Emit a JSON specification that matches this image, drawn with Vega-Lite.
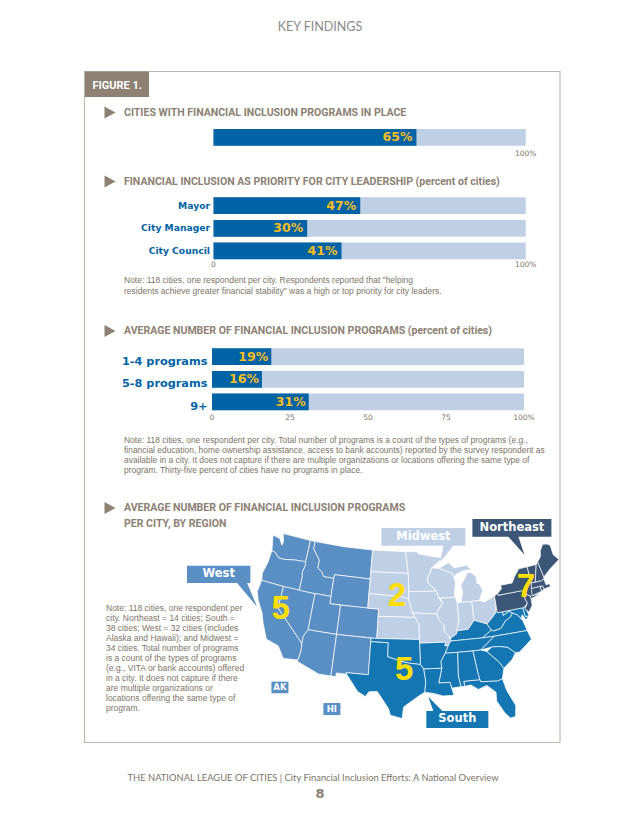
{"$schema":"https://vega.github.io/schema/vega-lite/v6.json","width":640,"height":828,"padding":0,"autosize":{"type":"fit","contains":"padding"},"background":"white","config":{"view":{"stroke":null}},"resolve":{"scale":{"x":"independent","y":"independent"}},
"layer":[
{"data":{"values":[{"panel":"Figure 1"}]},"mark":{"type":"rect","fill":"white","stroke":"#BDB9B3","strokeWidth":1.2},"encoding":{"x":{"datum":0,"scale":{"domain":[0,1],"range":[84.5,560]},"axis":null},"x2":{"datum":1},"y":{"datum":0,"scale":{"domain":[0,1],"range":[71.5,742.5]},"axis":null},"y2":{"datum":1}}},
{"data":{"values":[{"panel":"Figure 1"}]},"mark":{"type":"rect","fill":"#8C8173"},"encoding":{"x":{"datum":0,"scale":{"domain":[0,1],"range":[85,149]},"axis":null},"x2":{"datum":1},"y":{"datum":0,"scale":{"domain":[0,1],"range":[71.5,97]},"axis":null},"y2":{"datum":1}}},
{"data":{"values":[{"line":"FIGURE 1."}]},"mark":{"type":"text","align":"left","baseline":"middle","font":"Roboto","fontWeight":"bold","fontSize":11,"fill":"white"},"encoding":{"x":{"datum":0,"scale":{"domain":[0,1],"range":[92.5,93.5]},"axis":null},"y":{"field":"line","type":"nominal","scale":{"type":"point","padding":0,"range":[85.5,85.5]},"axis":null},"text":{"field":"line"}}},
{"data":{"values":[{"line":"KEY FINDINGS"}]},"mark":{"type":"text","align":"center","baseline":"middle","font":"Lato","fontSize":12.5,"fill":"#8A8A8A"},"encoding":{"x":{"datum":0,"scale":{"domain":[0,1],"range":[320,321]},"axis":null},"y":{"field":"line","type":"nominal","scale":{"type":"point","padding":0,"range":[27,27]},"axis":null},"text":{"field":"line"}}},
{"data":{"values":[{"line":"THE NATIONAL LEAGUE OF CITIES | City Financial Inclusion Efforts: A National Overview"}]},"mark":{"type":"text","align":"center","baseline":"middle","font":"Lato","fontSize":9.4,"fill":"#7C7468"},"encoding":{"x":{"datum":0,"scale":{"domain":[0,1],"range":[313,314]},"axis":null},"y":{"field":"line","type":"nominal","scale":{"type":"point","padding":0,"range":[778,778]},"axis":null},"text":{"field":"line"}}},
{"data":{"values":[{"line":"8"}]},"mark":{"type":"text","align":"center","baseline":"middle","font":"DejaVu Sans","fontWeight":"bold","fontSize":13,"fill":"#8C8173"},"encoding":{"x":{"datum":0,"scale":{"domain":[0,1],"range":[320,321]},"axis":null},"y":{"field":"line","type":"nominal","scale":{"type":"point","padding":0,"range":[794,794]},"axis":null},"text":{"field":"line"}}},

{"data":{"values":[{"line":"CITIES WITH FINANCIAL INCLUSION PROGRAMS IN PLACE"}]},"encoding":{"y":{"field":"line","type":"nominal","scale":{"type":"point","padding":0,"range":[112.5,112.5]},"axis":null}},"layer":[
{"mark":{"type":"point","filled":true,"opacity":1,"size":4,"shape":"M-5.5,-6L5.5,0L-5.5,6Z","color":"#8C8173"},"encoding":{"x":{"datum":0,"scale":{"domain":[0,1],"range":[110,124]},"axis":null}}},
{"mark":{"type":"text","align":"left","baseline":"middle","font":"Roboto","fontWeight":"bold","fontSize":10.55,"fill":"#8C8173"},"encoding":{"x":{"datum":1},"text":{"field":"line"}}}]},
{"data":{"values":[{"line":"FINANCIAL INCLUSION AS PRIORITY FOR CITY LEADERSHIP (percent of cities)"}]},"encoding":{"y":{"field":"line","type":"nominal","scale":{"type":"point","padding":0,"range":[181.5,181.5]},"axis":null}},"layer":[
{"mark":{"type":"point","filled":true,"opacity":1,"size":4,"shape":"M-5.5,-6L5.5,0L-5.5,6Z","color":"#8C8173"},"encoding":{"x":{"datum":0,"scale":{"domain":[0,1],"range":[110,124]},"axis":null}}},
{"mark":{"type":"text","align":"left","baseline":"middle","font":"Roboto","fontWeight":"bold","fontSize":10.55,"fill":"#8C8173"},"encoding":{"x":{"datum":1},"text":{"field":"line"}}}]},
{"data":{"values":[{"line":"AVERAGE NUMBER OF FINANCIAL INCLUSION PROGRAMS (percent of cities)"}]},"encoding":{"y":{"field":"line","type":"nominal","scale":{"type":"point","padding":0,"range":[331,331]},"axis":null}},"layer":[
{"mark":{"type":"point","filled":true,"opacity":1,"size":4,"shape":"M-5.5,-6L5.5,0L-5.5,6Z","color":"#8C8173"},"encoding":{"x":{"datum":0,"scale":{"domain":[0,1],"range":[110,124]},"axis":null}}},
{"mark":{"type":"text","align":"left","baseline":"middle","font":"Roboto","fontWeight":"bold","fontSize":10.55,"fill":"#8C8173"},"encoding":{"x":{"datum":1},"text":{"field":"line"}}}]},
{"data":{"values":[{"line":"AVERAGE NUMBER OF FINANCIAL INCLUSION PROGRAMS"},{"line":"PER CITY, BY REGION"}]},"encoding":{"y":{"field":"line","type":"nominal","sort":null,"scale":{"type":"point","padding":0,"domain":["AVERAGE NUMBER OF FINANCIAL INCLUSION PROGRAMS","PER CITY, BY REGION"],"range":[508,523.5]},"axis":null}},"layer":[
{"transform":[{"filter":"datum.line === 'AVERAGE NUMBER OF FINANCIAL INCLUSION PROGRAMS'"}],"mark":{"type":"point","filled":true,"opacity":1,"size":4,"shape":"M-5.5,-6L5.5,0L-5.5,6Z","color":"#8C8173"},"encoding":{"x":{"datum":0,"scale":{"domain":[0,1],"range":[110,124]},"axis":null}}},
{"mark":{"type":"text","align":"left","baseline":"middle","font":"Roboto","fontWeight":"bold","fontSize":10.55,"fill":"#8C8173"},"encoding":{"x":{"datum":1},"text":{"field":"line"}}}]},

{"layer":[
{"data":{"name":"inplace","values":[{"category":"All cities","value":65,"label":"65%"}]},"encoding":{"x":{"datum":100,"type":"quantitative","scale":{"domain":[0,100],"range":[213.5,525.7]},"axis":null},"y":{"field":"category","type":"nominal","scale":{"type":"band","range":[129,145.7],"paddingInner":0,"paddingOuter":0},"axis":null}},"mark":{"type":"bar","fill":"#BFCFE6"}},
{"data":{"name":"inplace"},"encoding":{"x":{"field":"value","type":"quantitative"},"y":{"field":"category","type":"nominal"}},"mark":{"type":"bar","fill":"#0063A6"}},
{"data":{"name":"inplace"},"encoding":{"x":{"field":"value","type":"quantitative"},"y":{"field":"category","type":"nominal"},"text":{"field":"label"}},"mark":{"type":"text","align":"right","baseline":"middle","dx":-4,"font":"DejaVu Sans","fontWeight":"bold","fontSize":12.5,"fill":"#F5BD1F"}},
{"data":{"values":[{"category":"All cities","tick":100,"label":"100%"}]},"encoding":{"x":{"field":"tick","type":"quantitative"},"y":{"field":"category","type":"nominal"},"text":{"field":"label"}},"mark":{"type":"text","align":"center","baseline":"middle","dy":16.6,"font":"DejaVu Sans","fontSize":7.5,"fill":"#7C7468"}}]},

{"layer":[
{"data":{"name":"priority","values":[{"category":"Mayor","value":47,"label":"47%"},{"category":"City Manager","value":30,"label":"30%"},{"category":"City Council","value":41,"label":"41%"}]},"encoding":{"x":{"datum":100,"type":"quantitative","scale":{"domain":[0,100],"range":[213.5,525.7]},"axis":null},"y":{"field":"category","type":"nominal","sort":null,"scale":{"type":"band","range":[197.3,259.3],"paddingInner":0.264,"paddingOuter":0},"axis":null}},"mark":{"type":"bar","fill":"#BFCFE6"}},
{"data":{"name":"priority"},"encoding":{"x":{"field":"value","type":"quantitative"},"y":{"field":"category","type":"nominal","sort":null}},"mark":{"type":"bar","fill":"#0063A6"}},
{"data":{"name":"priority"},"encoding":{"x":{"field":"value","type":"quantitative"},"y":{"field":"category","type":"nominal","sort":null},"text":{"field":"label"}},"mark":{"type":"text","align":"right","baseline":"middle","dx":-4,"font":"DejaVu Sans","fontWeight":"bold","fontSize":12.5,"fill":"#F5BD1F"}},
{"data":{"name":"priority"},"encoding":{"x":{"datum":0,"type":"quantitative"},"y":{"field":"category","type":"nominal","sort":null},"text":{"field":"category"}},"mark":{"type":"text","align":"right","baseline":"middle","dx":-3.5,"font":"DejaVu Sans","fontWeight":"bold","fontSize":9.2,"fill":"#0063A6"}},
{"data":{"values":[{"category":"City Council","tick":0,"label":"0"},{"category":"City Council","tick":100,"label":"100%"}]},"encoding":{"x":{"field":"tick","type":"quantitative"},"y":{"field":"category","type":"nominal","sort":null},"text":{"field":"label"}},"mark":{"type":"text","align":"center","baseline":"middle","dy":14,"font":"DejaVu Sans","fontSize":7.5,"fill":"#7C7468"}}]},

{"layer":[
{"data":{"name":"programs","values":[{"category":"1-4 programs","value":19,"label":"19%"},{"category":"5-8 programs","value":16,"label":"16%"},{"category":"9+","value":31,"label":"31%"}]},"encoding":{"x":{"datum":100,"type":"quantitative","scale":{"domain":[0,100],"range":[212,524]},"axis":null},"y":{"field":"category","type":"nominal","sort":null,"scale":{"type":"band","range":[348.3,410.3],"paddingInner":0.264,"paddingOuter":0},"axis":null}},"mark":{"type":"bar","fill":"#BFCFE6"}},
{"data":{"name":"programs"},"encoding":{"x":{"field":"value","type":"quantitative"},"y":{"field":"category","type":"nominal","sort":null}},"mark":{"type":"bar","fill":"#0063A6"}},
{"data":{"name":"programs"},"encoding":{"x":{"field":"value","type":"quantitative"},"y":{"field":"category","type":"nominal","sort":null},"text":{"field":"label"}},"mark":{"type":"text","align":"right","baseline":"middle","dx":-3,"font":"DejaVu Sans","fontWeight":"bold","fontSize":12.5,"fill":"#F5BD1F"}},
{"data":{"name":"programs"},"encoding":{"x":{"datum":0,"type":"quantitative"},"y":{"field":"category","type":"nominal","sort":null},"text":{"field":"category"}},"mark":{"type":"text","align":"right","baseline":"middle","dx":-4.5,"dy":5,"font":"DejaVu Sans","fontWeight":"bold","fontSize":11.3,"fill":"#0063A6"}},
{"data":{"values":[{"category":"9+","tick":0,"label":"0"},{"category":"9+","tick":25,"label":"25"},{"category":"9+","tick":50,"label":"50"},{"category":"9+","tick":75,"label":"75"},{"category":"9+","tick":100,"label":"100%"}]},"encoding":{"x":{"field":"tick","type":"quantitative"},"y":{"field":"category","type":"nominal","sort":null},"text":{"field":"label"}},"mark":{"type":"text","align":"center","baseline":"middle","dy":15.7,"font":"DejaVu Sans","fontSize":7.5,"fill":"#7C7468"}}]},

{"data":{"values":[{"line":"Note: 118 cities, one respondent per city. Respondents reported that \"helping"},{"line":"residents achieve greater financial stability\" was a high or top priority for city leaders."}]},"mark":{"type":"text","align":"left","baseline":"middle","font":"Liberation Sans","fontSize":8.5,"fill":"#7C7468"},"encoding":{"x":{"datum":0,"scale":{"domain":[0,1],"range":[124,125]},"axis":null},"y":{"field":"line","type":"nominal","sort":null,"scale":{"type":"point","padding":0,"range":[280,290.7]},"axis":null},"text":{"field":"line"}}},
{"data":{"values":[{"line":"Note: 118 cities, one respondent per city. Total number of programs is a count of the types of programs (e.g.,"},{"line":"financial education, home ownership assistance, access to bank accounts) reported by the survey respondent as"},{"line":"available in a city. It does not capture if there are multiple organizations or locations offering the same type of"},{"line":"program. Thirty-five percent of cities have no programs in place."}]},"mark":{"type":"text","align":"left","baseline":"middle","font":"Liberation Sans","fontSize":8.45,"fill":"#7C7468"},"encoding":{"x":{"datum":0,"scale":{"domain":[0,1],"range":[124,125]},"axis":null},"y":{"field":"line","type":"nominal","sort":null,"scale":{"type":"point","padding":0,"range":[440,470]},"axis":null},"text":{"field":"line"}}},
{"data":{"values":[{"line":"Note: 118 cities, one respondent per"},{"line":"city. Northeast = 14 cities; South ="},{"line":"38 cities; West = 32 cities (includes"},{"line":"Alaska and Hawaii); and Midwest ="},{"line":"34 cities. Total number of programs"},{"line":"is a count of the types of programs"},{"line":"(e.g., VITA or bank accounts) offered"},{"line":"in a city. It does not capture if there"},{"line":"are multiple organizations or"},{"line":"locations offering the same type of"},{"line":"program."}]},"mark":{"type":"text","align":"left","baseline":"middle","font":"Liberation Sans","fontSize":8.5,"fill":"#7C7468"},"encoding":{"x":{"datum":0,"scale":{"domain":[0,1],"range":[106,107]},"axis":null},"y":{"field":"line","type":"nominal","sort":null,"scale":{"type":"point","padding":0,"range":[608,708]},"axis":null},"text":{"field":"line"}}},

{"projection":{"type":"albers","scale":418,"translate":[408,627]},"layer":[
{"data":{"values":[
{"type":"Feature","state":"WA","region":"West","geometry":{"type":"Polygon","coordinates":[[[-124.7,48.4],[-123.2,48.2],[-122.4,47.4],[-122.3,48],[-122.8,49],[-117,49],[-117,46],[-119,45.9],[-121.2,45.6],[-122.3,45.6],[-123.3,46.2],[-124,46.3],[-124.7,48.4]]]}},
{"type":"Feature","state":"OR","region":"West","geometry":{"type":"Polygon","coordinates":[[[-124,46.3],[-123.3,46.2],[-122.3,45.6],[-121.2,45.6],[-119,45.9],[-117,46],[-116.9,45.5],[-117.2,44.4],[-117,44],[-117,42],[-120,42],[-124.2,42],[-124.5,43],[-124.1,44.5],[-124,46.3]]]}},
{"type":"Feature","state":"CA","region":"West","geometry":{"type":"Polygon","coordinates":[[[-124.2,42],[-120,42],[-120,39],[-114.6,35],[-114.5,34],[-114.7,32.7],[-117.1,32.5],[-118.4,34],[-120.6,34.5],[-121.9,36.6],[-122.5,37.8],[-123.8,39.3],[-124.4,40.4],[-124.2,42]]]}},
{"type":"Feature","state":"NV","region":"West","geometry":{"type":"Polygon","coordinates":[[[-120,42],[-114,42],[-114,37],[-114.6,36],[-114.6,35],[-120,39],[-120,42]]]}},
{"type":"Feature","state":"ID","region":"West","geometry":{"type":"Polygon","coordinates":[[[-117,49],[-116,49],[-116,48],[-114.4,46.6],[-114.4,45.5],[-113.5,45.1],[-113,44.5],[-111,44.5],[-111,42],[-114,42],[-117,42],[-117,44],[-117.2,44.4],[-116.9,45.5],[-117,46],[-117,49]]]}},
{"type":"Feature","state":"MT","region":"West","geometry":{"type":"Polygon","coordinates":[[[-116,49],[-110,49],[-104,49],[-104,45],[-111,45],[-111,44.5],[-113,44.5],[-113.5,45.1],[-114.4,45.5],[-114.4,46.6],[-116,48],[-116,49]]]}},
{"type":"Feature","state":"WY","region":"West","geometry":{"type":"Polygon","coordinates":[[[-111,45],[-104,45],[-104,41],[-111,41],[-111,45]]]}},
{"type":"Feature","state":"UT","region":"West","geometry":{"type":"Polygon","coordinates":[[[-114,42],[-111,42],[-111,41],[-109,41],[-109,37],[-114,37],[-114,42]]]}},
{"type":"Feature","state":"CO","region":"West","geometry":{"type":"Polygon","coordinates":[[[-109,41],[-102,41],[-102,37],[-109,37],[-109,41]]]}},
{"type":"Feature","state":"AZ","region":"West","geometry":{"type":"Polygon","coordinates":[[[-114,37],[-109,37],[-109,31.3],[-111,31.3],[-114.8,32.5],[-114.7,32.7],[-114.5,34],[-114.6,35],[-114.6,36],[-114,37]]]}},
{"type":"Feature","state":"NM","region":"West","geometry":{"type":"Polygon","coordinates":[[[-109,37],[-103,37],[-103,32],[-106.6,32],[-106.5,31.8],[-108.2,31.8],[-108.2,31.3],[-109,31.3],[-109,37]]]}},
{"type":"Feature","state":"ND","region":"Midwest","geometry":{"type":"Polygon","coordinates":[[[-104,49],[-97.2,49],[-96.6,46],[-104,46],[-104,49]]]}},
{"type":"Feature","state":"SD","region":"Midwest","geometry":{"type":"Polygon","coordinates":[[[-104,46],[-96.6,46],[-96.5,43.5],[-96.5,42.5],[-98,42.8],[-104,43],[-104,46]]]}},
{"type":"Feature","state":"NE","region":"Midwest","geometry":{"type":"Polygon","coordinates":[[[-104,43],[-98,42.8],[-96.5,42.5],[-95.8,40.6],[-95.3,40],[-102,40],[-102,41],[-104,41],[-104,43]]]}},
{"type":"Feature","state":"KS","region":"Midwest","geometry":{"type":"Polygon","coordinates":[[[-102,40],[-95.3,40],[-94.6,39],[-94.6,37],[-102,37],[-102,40]]]}},
{"type":"Feature","state":"MN","region":"Midwest","geometry":{"type":"Polygon","coordinates":[[[-97.2,49],[-95,49],[-95,49.3],[-94.6,48.7],[-92,48.3],[-89.6,48],[-92,46.7],[-92.3,46],[-92.8,45.5],[-92.8,44.7],[-91.2,43.5],[-96.5,43.5],[-96.6,46],[-97.2,49]]]}},
{"type":"Feature","state":"IA","region":"Midwest","geometry":{"type":"Polygon","coordinates":[[[-96.5,43.5],[-91.2,43.5],[-91,42.7],[-90.2,41.8],[-91,41],[-91.4,40.4],[-95.8,40.6],[-96.5,42.5],[-96.5,43.5]]]}},
{"type":"Feature","state":"MO","region":"Midwest","geometry":{"type":"Polygon","coordinates":[[[-95.8,40.6],[-91.4,40.4],[-91,39.5],[-90.2,38.8],[-90.2,38],[-89.5,37.3],[-89.2,36.6],[-89.7,36],[-90.3,36],[-90.1,36.5],[-94.6,36.5],[-94.6,37],[-94.6,39],[-95.3,40],[-95.8,40.6]]]}},
{"type":"Feature","state":"WI","region":"Midwest","geometry":{"type":"Polygon","coordinates":[[[-92,46.7],[-90.5,46.6],[-88,45.8],[-87.7,45.3],[-87.5,44.3],[-87.9,43],[-87.8,42.5],[-90.6,42.5],[-91,42.7],[-91.2,43.5],[-92.8,44.7],[-92.8,45.5],[-92.3,46],[-92,46.7]]]}},
{"type":"Feature","state":"IL","region":"Midwest","geometry":{"type":"Polygon","coordinates":[[[-90.6,42.5],[-87.8,42.5],[-87.5,41.7],[-87.5,39.3],[-88,37.9],[-88.1,37.5],[-89.2,37],[-89.5,37.3],[-90.2,38],[-90.2,38.8],[-91,39.5],[-91.4,40.4],[-91,41],[-90.2,41.8],[-90.6,42.5]]]}},
{"type":"Feature","state":"IN","region":"Midwest","geometry":{"type":"Polygon","coordinates":[[[-87.5,41.7],[-86.8,41.76],[-84.8,41.7],[-84.8,39.1],[-86,38],[-88,37.9],[-87.5,39.3],[-87.5,41.7]]]}},
{"type":"Feature","state":"MI","region":"Midwest","geometry":{"type":"MultiPolygon","coordinates":[[[[-85,45.7],[-84.3,45.6],[-83.4,45],[-83.4,44],[-83,44],[-82.5,43],[-83.2,42],[-83.5,41.7],[-84.8,41.7],[-86.8,41.76],[-86.3,43],[-86.5,44],[-85.6,45],[-85,45.7]]],[[[-90.5,46.6],[-88.5,47.3],[-87.5,46.5],[-85,46.7],[-84.2,46],[-85.5,46],[-87,45.7],[-87.7,45.3],[-88,45.8],[-90.5,46.6]]]]}},
{"type":"Feature","state":"OH","region":"Midwest","geometry":{"type":"Polygon","coordinates":[[[-84.8,41.7],[-83.5,41.7],[-82.5,41.4],[-80.5,42],[-80.5,40.6],[-80.8,39.7],[-81.7,39],[-82.6,38.4],[-84.8,39.1],[-84.8,41.7]]]}},
{"type":"Feature","state":"KY","region":"South","geometry":{"type":"Polygon","coordinates":[[[-84.8,39.1],[-82.6,38.4],[-82,37.5],[-83.7,36.6],[-89.2,36.6],[-89.2,37],[-88.1,37.5],[-88,37.9],[-86,38],[-84.8,39.1]]]}},
{"type":"Feature","state":"WV","region":"South","geometry":{"type":"Polygon","coordinates":[[[-80.5,40.6],[-80.5,39.7],[-79.5,39.7],[-79.5,39.2],[-78.4,39.6],[-77.8,39.3],[-78.3,38.8],[-79.3,38.4],[-80.3,37.5],[-81.7,37.3],[-82,37.5],[-82.6,38.4],[-81.7,39],[-80.8,39.7],[-80.5,40.6]]]}},
{"type":"Feature","state":"VA","region":"South","geometry":{"type":"Polygon","coordinates":[[[-77.8,39.3],[-77,38.9],[-76.3,38],[-76,37],[-75.9,36.55],[-81.7,36.6],[-83.7,36.6],[-82,37.5],[-81.7,37.3],[-80.3,37.5],[-79.3,38.4],[-78.3,38.8],[-77.8,39.3]]]}},
{"type":"Feature","state":"NC","region":"South","geometry":{"type":"Polygon","coordinates":[[[-81.7,36.6],[-75.9,36.55],[-75.5,35.3],[-76.5,34.7],[-77.9,33.9],[-78.6,33.9],[-79.7,34.8],[-81,35.1],[-82.3,35.2],[-84.3,35],[-83,35.8],[-81.7,36.6]]]}},
{"type":"Feature","state":"TN","region":"South","geometry":{"type":"Polygon","coordinates":[[[-89.2,36.6],[-83.7,36.6],[-81.7,36.6],[-83,35.8],[-84.3,35],[-85.6,35],[-88.2,35],[-90.3,35],[-89.7,36],[-89.2,36.6]]]}},
{"type":"Feature","state":"SC","region":"South","geometry":{"type":"Polygon","coordinates":[[[-82.3,35.2],[-81,35.1],[-79.7,34.8],[-78.6,33.9],[-79.3,33.1],[-80.9,32.1],[-81.5,33],[-83.3,34.7],[-82.3,35.2]]]}},
{"type":"Feature","state":"GA","region":"South","geometry":{"type":"Polygon","coordinates":[[[-85.6,35],[-84.3,35],[-83.3,34.7],[-81.5,33],[-80.9,32.1],[-81.4,30.7],[-82.2,30.5],[-84.9,30.7],[-85,31],[-85.2,32],[-85.6,35]]]}},
{"type":"Feature","state":"FL","region":"South","geometry":{"type":"Polygon","coordinates":[[[-87.6,31],[-85,31],[-84.9,30.7],[-82.2,30.5],[-81.4,30.7],[-81,29],[-80,26.8],[-80.3,25.3],[-81.1,25.2],[-81.8,26],[-82.8,27.8],[-82.7,29],[-84,30.1],[-85.4,29.7],[-86.5,30.4],[-87.5,30.3],[-87.6,31]]]}},
{"type":"Feature","state":"AL","region":"South","geometry":{"type":"Polygon","coordinates":[[[-88.2,35],[-85.6,35],[-85.2,32],[-85,31],[-87.6,31],[-87.5,30.3],[-88.1,30.3],[-88.4,31.8],[-88.2,35]]]}},
{"type":"Feature","state":"MS","region":"South","geometry":{"type":"Polygon","coordinates":[[[-90.3,35],[-88.2,35],[-88.4,31.8],[-88.1,30.3],[-89.6,30.2],[-89.8,31],[-91.6,31],[-91,33],[-91.1,33.9],[-90.3,35]]]}},
{"type":"Feature","state":"LA","region":"South","geometry":{"type":"Polygon","coordinates":[[[-94,33],[-91,33],[-91.6,31],[-89.8,31],[-89.6,30.2],[-89.3,29.2],[-91,29.2],[-92.5,29.6],[-93.9,29.8],[-93.7,31.2],[-94,33]]]}},
{"type":"Feature","state":"AR","region":"South","geometry":{"type":"Polygon","coordinates":[[[-94.6,36.5],[-90.1,36.5],[-90.3,36],[-89.7,36],[-90.3,35],[-91.1,33.9],[-91,33],[-94,33],[-94.5,33.6],[-94.6,36.5]]]}},
{"type":"Feature","state":"OK","region":"South","geometry":{"type":"Polygon","coordinates":[[[-103,37],[-102,37],[-94.6,37],[-94.6,36.5],[-94.5,33.6],[-96.5,33.8],[-98,34.1],[-100,34.6],[-100,36.5],[-103,36.5],[-103,37]]]}},
{"type":"Feature","state":"TX","region":"South","geometry":{"type":"Polygon","coordinates":[[[-103,36.5],[-100,36.5],[-100,34.6],[-98,34.1],[-96.5,33.8],[-94.5,33.6],[-94,33],[-93.7,31.2],[-93.9,29.8],[-95,29.2],[-97.2,27.8],[-97.4,26.2],[-99.2,26.6],[-99.5,27.5],[-101.4,29.8],[-102.7,29.7],[-103.2,29],[-104.5,29.6],[-106.5,31.8],[-106.6,32],[-103,32],[-103,36.5]]]}},
{"type":"Feature","state":"MD","region":"South","geometry":{"type":"Polygon","coordinates":[[[-79.5,39.7],[-75.8,39.7],[-75.7,38.45],[-75.05,38.45],[-75.7,38],[-76.2,38.8],[-76.5,38.3],[-77,38.9],[-77.8,39.3],[-78.4,39.6],[-79.5,39.2],[-79.5,39.7]]]}},
{"type":"Feature","state":"DE","region":"South","geometry":{"type":"Polygon","coordinates":[[[-75.8,39.7],[-75.4,39.8],[-75.1,38.8],[-75.05,38.45],[-75.7,38.45],[-75.8,39.7]]]}},
{"type":"Feature","state":"PA","region":"Northeast","geometry":{"type":"Polygon","coordinates":[[[-80.5,42],[-79.8,42.3],[-79.8,42],[-75.3,42],[-74.7,41.4],[-75.1,40.9],[-74.8,40.2],[-75.4,39.8],[-75.8,39.7],[-79.5,39.7],[-80.5,39.7],[-80.5,40.6],[-80.5,42]]]}},
{"type":"Feature","state":"NY","region":"Northeast","geometry":{"type":"Polygon","coordinates":[[[-79.8,42.3],[-79,42.8],[-79,43.3],[-76.8,43.3],[-76.2,44],[-75,45],[-73.3,45],[-73.3,42.7],[-73.5,41.3],[-73.7,41],[-72,41.1],[-74,40.6],[-74,41],[-74.7,41.4],[-75.3,42],[-79.8,42],[-79.8,42.3]]]}},
{"type":"Feature","state":"NJ","region":"Northeast","geometry":{"type":"Polygon","coordinates":[[[-74.7,41.4],[-74,41],[-74,40.4],[-74.1,39.7],[-74.9,38.95],[-75.5,39.5],[-74.8,40.2],[-75.1,40.9],[-74.7,41.4]]]}},
{"type":"Feature","state":"CT","region":"Northeast","geometry":{"type":"Polygon","coordinates":[[[-73.5,42],[-71.8,42],[-71.8,41.3],[-73.7,41],[-73.5,42]]]}},
{"type":"Feature","state":"RI","region":"Northeast","geometry":{"type":"Polygon","coordinates":[[[-71.8,42],[-71.4,42],[-71.2,41.5],[-71.8,41.3],[-71.8,42]]]}},
{"type":"Feature","state":"MA","region":"Northeast","geometry":{"type":"Polygon","coordinates":[[[-73.3,42.75],[-71.3,42.7],[-70.8,42.85],[-70.7,42],[-70,42],[-70,41.6],[-71.2,41.5],[-71.4,42],[-73.5,42],[-73.3,42.75]]]}},
{"type":"Feature","state":"VT","region":"Northeast","geometry":{"type":"Polygon","coordinates":[[[-73.3,45],[-71.5,45],[-72.5,42.73],[-73.3,42.75],[-73.3,45]]]}},
{"type":"Feature","state":"NH","region":"Northeast","geometry":{"type":"Polygon","coordinates":[[[-71.5,45],[-71.1,45.3],[-70.7,43.1],[-70.8,42.85],[-71.3,42.7],[-72.5,42.73],[-71.5,45]]]}},
{"type":"Feature","state":"ME","region":"Northeast","geometry":{"type":"Polygon","coordinates":[[[-71.1,45.3],[-70.3,45.9],[-70,46.7],[-69.2,47.45],[-68.3,47.3],[-67.8,47],[-67.8,45.7],[-67,44.8],[-69,44],[-70.7,43.1],[-71.1,45.3]]]}}
]},"mark":{"type":"geoshape","stroke":"white","strokeWidth":0.7},"encoding":{"color":{"field":"region","type":"nominal","legend":null,"scale":{"domain":["West","Midwest","South","Northeast"],"range":["#5A8FC4","#BFCFE6","#1476B2","#3B5676"]}}}},
{"data":{"name":"callouts","values":[{"label":"West","region":"West","lon":-132.06,"lat":40.82},{"label":"Midwest","region":"Midwest","lon":-93.44,"lat":51.04},{"label":"Northeast","region":"Northeast","lon":-74.5,"lat":50.73},{"label":"South","region":"South","lon":-89.06,"lat":25.84},{"label":"AK","region":"West","lon":-116.62,"lat":28.51},{"label":"HI","region":"West","lon":-108.16,"lat":26.81}]},"mark":{"type":"point","filled":true,"opacity":1,"size":4},"encoding":{"longitude":{"field":"lon","type":"quantitative"},"latitude":{"field":"lat","type":"quantitative"},"color":{"field":"region","type":"nominal","legend":null},"shape":{"field":"label","type":"nominal","legend":null,"scale":{"domain":["West","Midwest","Northeast","South","AK","HI"],"range":["M-31.7,-8.7H31.7V8.7H28.4L38.4,32.4L18.4,8.7H-31.7Z","M-42,-8.9H42V8.9H30L17,24.8L20,8.9H-42Z","M-39.5,-8.9H39.5V8.9H6.5L12.5,27L-3.5,8.9H-39.5Z","M-31,-8.5H-24L-29,-22.5L-15,-8.5H31V8.5H-31Z","M-8.5,-5.8H8.5V5.8H-8.5Z","M-8.5,-6H8.5V6H-8.5Z"]}}}},
{"data":{"name":"callouts"},"transform":[{"filter":"datum.label !== 'AK' && datum.label !== 'HI'"}],"mark":{"type":"text","align":"center","baseline":"middle","font":"DejaVu Sans","fontWeight":"bold","fontSize":11.5,"fill":"white"},"encoding":{"longitude":{"field":"lon","type":"quantitative"},"latitude":{"field":"lat","type":"quantitative"},"text":{"field":"label"}}},
{"data":{"name":"callouts"},"transform":[{"filter":"datum.label === 'AK' || datum.label === 'HI'"}],"mark":{"type":"text","align":"center","baseline":"middle","font":"DejaVu Sans","fontWeight":"bold","fontSize":8.5,"fill":"white"},"encoding":{"longitude":{"field":"lon","type":"quantitative"},"latitude":{"field":"lat","type":"quantitative"},"text":{"field":"label"}}},
{"data":{"values":[{"region":"West","average":5,"lon":-119.5,"lat":39},{"region":"Midwest","average":2,"lon":-98.7,"lat":42.9},{"region":"South","average":5,"lon":-97.2,"lat":32.9},{"region":"Northeast","average":7,"lon":-74.4,"lat":42.4}]},"mark":{"type":"text","align":"center","baseline":"middle","font":"Liberation Sans","fontWeight":"bold","fontSize":33,"fill":"#FFDE00"},"encoding":{"longitude":{"field":"lon","type":"quantitative"},"latitude":{"field":"lat","type":"quantitative"},"text":{"field":"average"}}}
]}
]}
